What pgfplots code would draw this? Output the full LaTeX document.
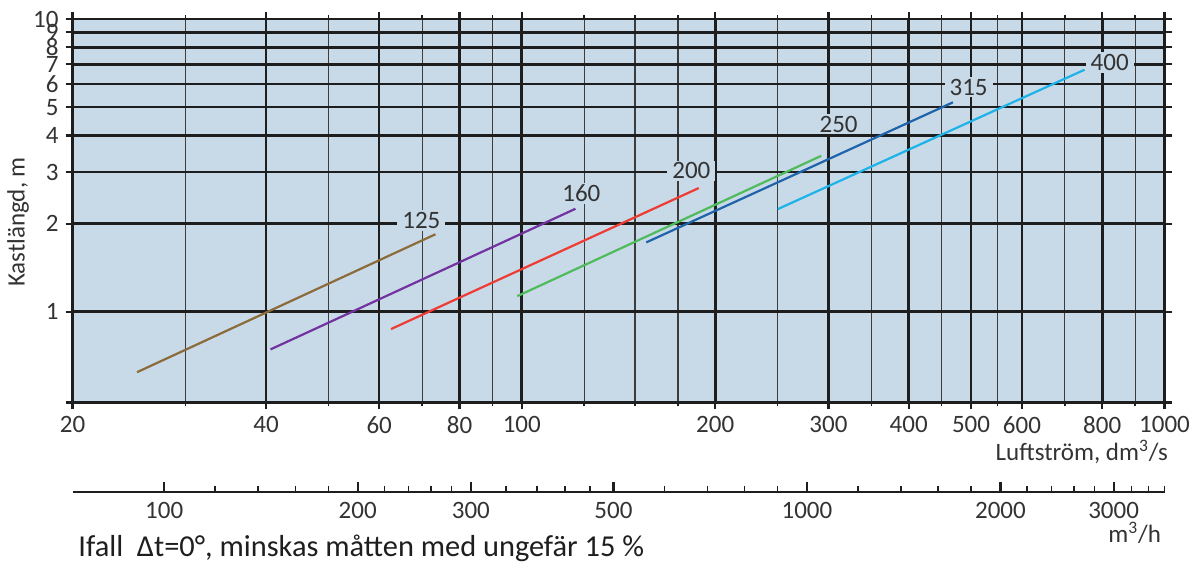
\documentclass[border=0pt]{standalone}
\usepackage{fontspec}
\setmainfont{Carlito}
\usepackage{pgfplots}
\pgfplotsset{compat=1.18}
\usetikzlibrary{calc}

\definecolor{plotbg}{HTML}{C8DAE8}
\definecolor{gridk}{HTML}{1E1E1E}
\definecolor{gridm}{HTML}{3C3C3C}
\definecolor{txt}{HTML}{333333}
\definecolor{c125}{HTML}{8C6B3A}
\definecolor{c160}{HTML}{7232A0}
\definecolor{c200}{HTML}{EE3B33}
\definecolor{c250}{HTML}{4FBB5C}
\definecolor{c315}{HTML}{1F63AA}
\definecolor{c400}{HTML}{1DB3E8}

\newcommand{\lblfont}{\fontsize{12.5}{13}\selectfont}
\tikzset{sizelabel/.style={fill=plotbg, inner xsep=2.5pt, inner ysep=1pt, text=txt, font=\lblfont}}

\begin{document}
\begin{tikzpicture}[font=\lblfont]
% throw length versus air flow
\begin{axis}[
  name=ax, scale only axis, width=546pt, height=191.75pt,
  xmode=log, ymode=log,
  xmin=20, xmax=1000, ymin=0.49, ymax=10,
  axis background/.style={fill=plotbg},
  /pgf/number format/assume math mode=true,
  xtick={20,40,60,80,100,200,300,400,500,600,800,1000},
  xticklabels={20,40,60,80,100,200,300,400,500,600,800,1000},
  minor xtick={30,50,70,90,125,150,175,250,350,450,550,700,900},
  ytick={0.49,1,2,3,4,5,6,7,8,9,10},
  yticklabels={,1,2,3,4,5,6,7,8,9,10},
  tick align=outside,
  major tick length=3.5pt, minor tick length=2pt,
  xmajorgrids, xminorgrids, ymajorgrids,
  major grid style={line width=1.3pt, draw=gridk},
  minor grid style={line width=0.55pt, draw=gridm},
  axis line style={line width=1.4pt, draw=gridk},
  tick style={line width=1.1pt, draw=gridk},
  every minor tick/.append style={line width=0.7pt},
  tick label style={text=txt, font=\lblfont},
]
\addplot[c125, line width=1.1pt] coordinates {(25.2,0.622) (73.4,1.84)};
\addplot[c160, line width=1.1pt] coordinates {(40.65,0.744) (121.2,2.248)};
\addplot[c200, line width=1.1pt] coordinates {(62.6,0.873) (188.6,2.647)};
\addplot[c250, line width=1.1pt] coordinates {(98.4,1.131) (292.4,3.41)};
\addplot[c315, line width=1.1pt] coordinates {(156.2,1.726) (468.6,5.193)};
\addplot[c400, line width=1.1pt] coordinates {(250.3,2.243) (751,6.71)};

\node[sizelabel] at (axis cs:69.8,2.05) {125};
\node[sizelabel] at (axis cs:123.8,2.54) {160};
\node[sizelabel] at (axis cs:183.6,3.03) {200};
\node[sizelabel] at (axis cs:311.2,4.38) {250};
\node[sizelabel] at (axis cs:495.7,5.85) {315};
\node[sizelabel] at (axis cs:821.7,7.1) {400};
\end{axis}

\node[rotate=90, text=txt] at ($(ax.west)+(-27.25pt,-5.6pt)$) {Kastlängd, m};
\node[anchor=east, text=txt] at ($(ax.south east)+(5.25pt,-24.75pt)$) {Luftström, dm\textsuperscript{3}/s};

% the same flow in m3/h
\begin{axis}[
  name=bx, at={($(ax.south west)+(0,-44.75pt)$)}, anchor=south west,
  scale only axis, width=546pt, height=10pt,
  xmode=log, xmin=72, xmax=3600, ymin=0, ymax=1,
  axis x line*=bottom, axis y line=none,
  xtick={100,200,300,500,1000,2000,3000},
  xticklabels={100,200,300,500,1000,2000,3000},
  minor xtick={120,140,160,180,220,240,260,280,340,380,420,460,600,700,800,900,1200,1400,1600,1800,2200,2400,2600,2800,3200,3400,3600},
  xtick align=inside,
  major tick length=5pt, minor tick length=3pt,
  axis line style={line width=1.3pt, draw=gridk},
  tick style={line width=1.1pt, draw=gridk},
  every minor tick/.append style={line width=0.8pt},
  tick label style={text=txt, font=\lblfont, yshift=-1.5pt},
  /pgf/number format/assume math mode=true,
]
\addplot[draw=none] coordinates {(100,0.5)};
\end{axis}

\node[anchor=east, text=txt] at ($(bx.south east)+(1.75pt,-20.5pt)$) {m\textsuperscript{3}/h};
\node[anchor=west, inner sep=0pt, text=gridk, font=\fontsize{15.2}{16}\selectfont] at ($(ax.south west)+(2.75pt,-72.75pt)$) {Ifall\ \ Δt=0°, minskas måtten med ungefär 15~\%};

\pgfresetboundingbox
\path[use as bounding box] ($(ax.south west)+(-36.25pt,-80.25pt)$) rectangle ($(ax.north east)+(17.75pt,9.5pt)$);
\end{tikzpicture}
\end{document}
